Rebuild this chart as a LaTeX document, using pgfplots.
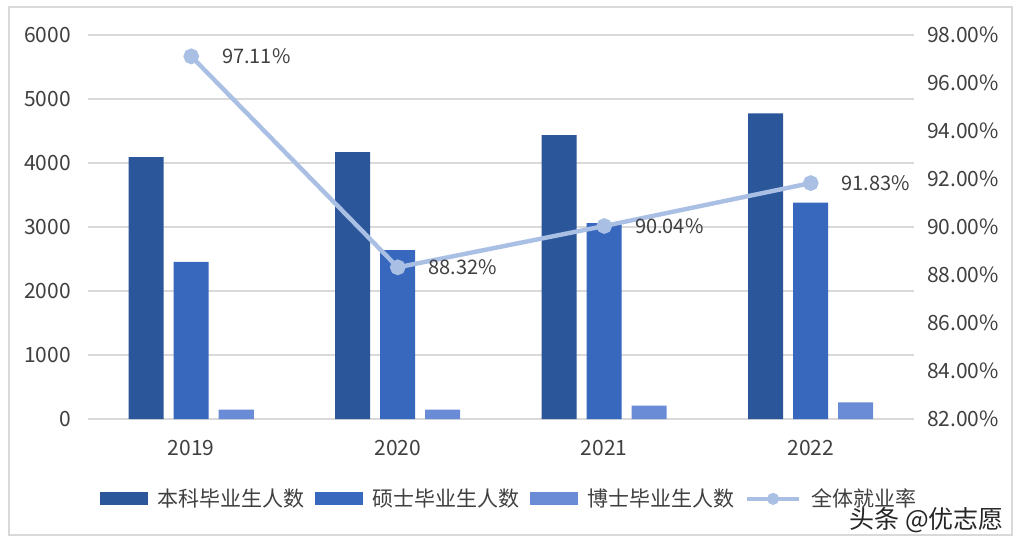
\documentclass[border=0pt]{standalone}
\usepackage{fontspec}
\setmainfont{Noto Sans CJK SC}
\usepackage{pgfplots}
\pgfplotsset{compat=1.18}
\definecolor{cA}{HTML}{2B579A}
\definecolor{cB}{HTML}{3868BE}
\definecolor{cC}{HTML}{6A8CD6}
\definecolor{cL}{HTML}{A9BFE3}
\definecolor{gridc}{HTML}{D9D9D9}
\definecolor{txt}{HTML}{404040}
\newcommand{\fs}{\fontsize{10.5}{12}\selectfont}
\begin{document}
\begin{tikzpicture}
\useasboundingbox (0,0) rectangle (512pt,271.5pt);
\fill[white] (0,0) rectangle (512pt,271.5pt);
\draw[gridc, line width=0.6pt] (4.5pt,4pt) rectangle (506pt,268pt);
\begin{axis}[
  at={(44pt,62pt)}, anchor=south west,
  scale only axis, width=413pt, height=192pt,
  xmin=-0.5, xmax=3.5, ymin=0, ymax=6000,
  ytick={0,1000,...,6000},
  xtick={0,1,2,3}, xticklabels={2019,2020,2021,2022},
  axis line style={draw=none}, major tick length=0pt,
  ymajorgrids, grid style={gridc, line width=0.6pt},
  ybar=5pt, bar width=17.5pt,
  /pgf/number format/assume math mode=true,
  /pgf/number format/1000 sep={},
  tick label style={font=\fs, text=txt},
  yticklabel style={xshift=-5pt},
  xticklabel style={yshift=-7pt},
  legend columns=4,
  legend style={at={(0.511,-0.208)}, anchor=center, draw=none, fill=none,
    font=\fs, text=txt, column sep=3pt,
    /tikz/every even column/.append style={column sep=3pt}},
  legend image code/.code={\fill (0pt,-3.25pt) rectangle (24pt,3.25pt);},
]
\addplot[fill=cA, draw=none] coordinates {(0,4090) (1,4170) (2,4435) (3,4775)};
\addlegendentry{本科毕业生人数}
\addplot[fill=cB, draw=none] coordinates {(0,2455) (1,2640) (2,3060) (3,3380)};
\addlegendentry{硕士毕业生人数}
\addplot[fill=cC, draw=none] coordinates {(0,145) (1,145) (2,208) (3,260)};
\addlegendentry{博士毕业生人数}
\addlegendimage{legend image code/.code={
  \draw[cL, line width=2.2pt] (0pt,0pt) -- (26pt,0pt);
  \fill[cL] (13pt,0pt) circle (2.8pt);}}
\addlegendentry{全体就业率}
\end{axis}
\begin{axis}[
  at={(44pt,62pt)}, anchor=south west,
  scale only axis, width=413pt, height=192pt,
  xmin=-0.5, xmax=3.5, ymin=82, ymax=98,
  ytick={82,84,...,98},
  axis y line*=right, axis x line=none,
  axis line style={draw=none}, major tick length=0pt,
  /pgf/number format/assume math mode=true,
  tick label style={font=\fs, text=txt},
  yticklabel={\pgfmathprintnumber[fixed,precision=2,fixed zerofill]{\tick}\%},
  yticklabel style={xshift=3pt},
  nodes near coords={\pgfmathprintnumber[fixed,precision=2,fixed zerofill,assume math mode=true]{\pgfplotspointmeta}\%},
  nodes near coords style={anchor=west, xshift=11pt, font=\fontsize{10}{12}\selectfont, text=txt},
]
\addplot[cL, line width=2.2pt, mark=*, mark size=2.8pt, mark options={fill=cL, draw=cL}]
  coordinates {(0,97.11) (1,88.32) (2,90.04) (3,91.83)};
\end{axis}
\node[anchor=east, font=\fontsize{12.5}{14}\selectfont, text=black!85] at (505.5pt,11.5pt) {头条 @优志愿};
\end{tikzpicture}
\end{document}
